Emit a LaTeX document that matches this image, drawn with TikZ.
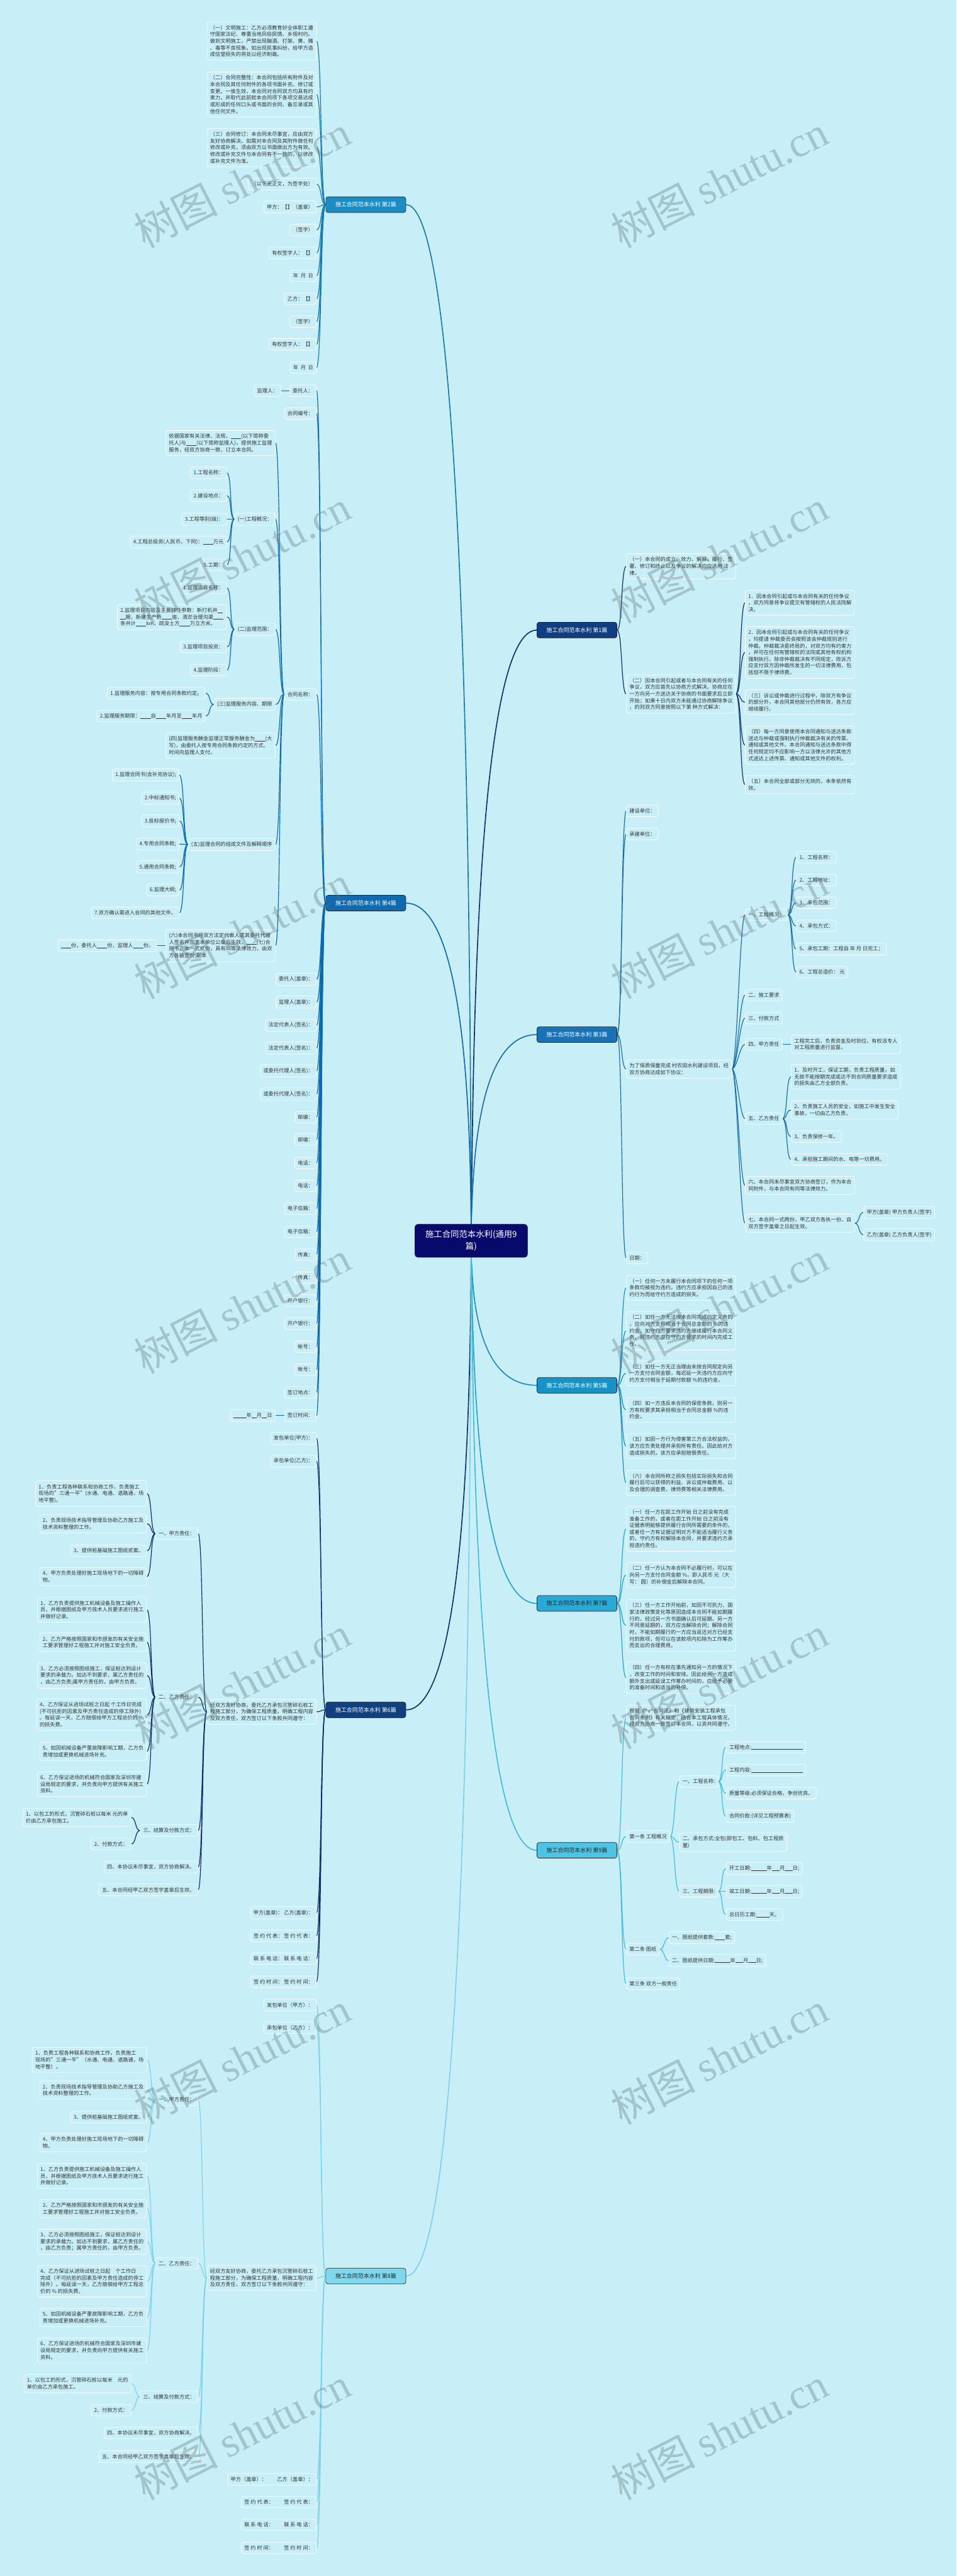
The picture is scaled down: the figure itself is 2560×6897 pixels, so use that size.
\documentclass[tikz,border=0pt]{standalone}
\usepackage{fontspec}
\setmainfont{Noto Sans CJK SC}
\newfontfamily\wmlat{Liberation Serif}
\pgfdeclarelayer{back}
\pgfdeclarelayer{bg}
\pgfdeclarelayer{top}
\pgfsetlayers{back,bg,main,top}
\definecolor{bgc}{HTML}{C8EFF7}
\definecolor{ltx}{HTML}{333333}
\definecolor{t8}{HTML}{3AA3BD}
\definecolor{t9}{HTML}{2A5964}
\definecolor{ctrc}{HTML}{070A6B}
\definecolor{c1}{HTML}{0F3F82}\definecolor{l1}{HTML}{0E2E6C}
\definecolor{c2}{HTML}{1C8DC4}\definecolor{l2}{HTML}{1779AC}
\definecolor{c3}{HTML}{1A72B6}\definecolor{l3}{HTML}{1B6DA6}
\definecolor{c4}{HTML}{0F6AB0}\definecolor{l4}{HTML}{0E69AD}
\definecolor{c5}{HTML}{1693C6}\definecolor{l5}{HTML}{1A8DBE}
\definecolor{c6}{HTML}{10407F}\definecolor{l6}{HTML}{0F2F6B}
\definecolor{c7}{HTML}{2AA9D6}\definecolor{l7}{HTML}{27A2CD}
\definecolor{c8}{HTML}{7FD8EE}\definecolor{l8}{HTML}{7CD2E6}
\definecolor{c9}{HTML}{4EC4E4}\definecolor{l9}{HTML}{44BAD9}
\definecolor{wmc}{HTML}{5A6E73}
\newcommand\lf{\fontsize{3.93pt}{5.09pt}\selectfont}
\newcommand\brf{\fontsize{4.3pt}{5.2pt}\selectfont}
\newcommand\ctf{\fontsize{6.4pt}{9.1pt}\selectfont}
\newcommand\bl[1]{\rule[-0.4pt]{#1em}{0.3pt}}
\newcommand\lk[3]{\draw[#1] (#2.west) .. controls +(-14,0) and +(14,0) .. (#3.east);}
\newcommand\rk[3]{\draw[#1] (#2.east) .. controls +(14,0) and +(-14,0) .. (#3.west);}
\tikzset{
 leaf/.style={draw=white, line width=0.12mm, rounded corners=0.6mm, fill=bgc, inner xsep=0.8mm, inner ysep=0.9mm, font=\lf, align=left, text=ltx},
 lft/.style={leaf, anchor=east},
 rgt/.style={leaf, anchor=west},
 br/.style={draw=black!85, line width=0.12mm, rounded corners=0.6mm, minimum width=21.4mm, minimum height=4.2mm, inner sep=0pt, font=\brf, text=white},
 cn/.style={line width=0.2mm},
 fl/.style={line width=0.28mm},
 wm/.style={font={\fontsize{32pt}{36pt}\selectfont}, text=wmc, opacity=0.33, rotate=27},
}
\begin{document}
\begin{tikzpicture}[x=0.1mm,y=-0.1mm]
\begin{pgfonlayer}{back}
\fill[bgc] (0,0) rectangle (2560,6897);
\end{pgfonlayer}
\useasboundingbox (0,0) rectangle (2560,6897);

% ---------- center ----------
\node[draw=ctrc!70!black, fill=ctrc, text=white, rounded corners=0.8mm, font=\ctf, align=center, minimum width=30.1mm, minimum height=8.8mm, inner sep=0pt] (ctr) at (1261,3322) {施工合同范本水利(通用9\\篇)};

% ---------- branch nodes ----------
\node[br, fill=c1] (b1) at (1544,1687) {施工合同范本水利 第1篇};
\node[br, fill=c2] (b2) at (979,548) {施工合同范本水利 第2篇};
\node[br, fill=c3] (b3) at (1544,2770) {施工合同范本水利 第3篇};
\node[br, fill=c4] (b4) at (979,2418) {施工合同范本水利 第4篇};
\node[br, fill=c5] (b5) at (1544,3709) {施工合同范本水利 第5篇};
\node[br, fill=c6] (b6) at (979,4578) {施工合同范本水利 第6篇};
\node[br, fill=c7, text=black!85] (b7) at (1544,4293) {施工合同范本水利 第7篇};
\node[br, fill=c8, text=black!85] (b8) at (979,6094) {施工合同范本水利 第8篇};
\node[br, fill=c9, text=black!85] (b9) at (1544,4954) {施工合同范本水利 第9篇};

% ---------- 第2篇 ----------
\node[lft] (b2a) at (847,110) {（一）文明施工：乙方必须教育好全体职工遵\\守国家法纪、尊重当地风俗民情、乡规村约。\\做到文明施工，严禁出现酗酒、打架、黄、赌\\、毒等不良现象。如出现民事纠纷，给甲方造\\成信誉损失的将处以经济制裁。};
\node[lft] (b2b) at (847,253) {（二）合同完整性：本合同包括所有附件及对\\本合同及其任何附件的各项书面补充、修订或\\变更。一俟生效，本合同对合同双方均具有约\\束力，并取代此前就本合同项下各项交易达成\\或形成的任何口头或书面的合同、备忘录或其\\他任何文件。};
\node[lft] (b2c) at (847,395) {（三）合同修订：本合同未尽事宜，应由双方\\友好协商解决。如需对本合同及其附件做任何\\修改或补充，须由双方以书面做出方为有效。\\修改或补充文件与本合同有不一致的，以修改\\或补充文件为准。};
\node[lft] (b2d) at (847,493) {（以下无正文，为签字处）};
\node[lft] (b2e) at (847,554) {甲方：【】（盖章）};
\node[lft] (b2f) at (847,616) {（签字）};
\node[lft] (b2g) at (847,677) {有权签字人：【】};
\node[lft] (b2h) at (847,738) {年~~月~~日};
\node[lft] (b2i) at (847,800) {乙方：【】};
\node[lft] (b2j) at (847,861) {（签字）};
\node[lft] (b2k) at (847,922) {有权签字人：【】};
\node[lft] (b2l) at (847,984) {年~~月~~日};

% ---------- 第4篇 ----------
\node[lft] (b4a) at (847,1046) {委托人：};
\node[lft] (b4a1) at (752,1046) {监理人：};
\node[lft] (b4b) at (847,1107) {合同编号：};
\node[lft] (b4c) at (847,1859) {合同名称：};
\node[lft] (b4c1) at (737,1186) {依据国家有关法律、法规，\bl{2}(以下简称委\\托人)与\bl{2}(以下简称监理人)，提供施工监理\\服务，经双方协商一致，订立本合同。};
\node[lft] (b4c2) at (737,1390) {(一)工程概况：};
\node[lft] (b4c2a) at (607,1266) {1.工程名称：};
\node[lft] (b4c2b) at (607,1327) {2.建设地点：};
\node[lft] (b4c2c) at (607,1390) {3.工程等别(级)：};
\node[lft] (b4c2d) at (607,1451) {4.工程总投资(人民币，下同)：\bl{2}万元};
\node[lft] (b4c2e) at (607,1512) {5.工期：};
\node[lft] (b4c3) at (737,1685) {(二)监理范围：};
\node[lft] (b4c3a) at (607,1574) {1.监理项目名称：};
\node[lft] (b4c3b) at (607,1652) {2.监理项目内容及主要特性参数：新打机井\bl{1}\\\bl{1}眼，新建生产桥\bl{2}座、清淤治理沟渠\bl{2}\\条共计\bl{2}km，疏浚土方\bl{2}万立方米。};
\node[lft] (b4c3c) at (607,1732) {3.监理项目投资：};
\node[lft] (b4c3d) at (607,1794) {4.监理阶段：};
\node[lft] (b4c4) at (737,1886) {(三)监理服务内容、期限};
\node[lft] (b4c4a) at (550,1856) {1.监理服务内容：按专用合同条款约定。};
\node[lft] (b4c4b) at (550,1917) {2.监理服务期限：\bl{2}自\bl{2}年月至\bl{2}年月};
\node[lft] (b4c5) at (737,1996) {(四)监理服务酬金监理正常服务酬金为\bl{2}(大\\写)，由委托人按专用合同条款约定的方式、\\时间向监理人支付。};
\node[lft] (b4c6) at (737,2261) {(五)监理合同的组成文件及解释顺序};
\node[lft] (b4c6a) at (480,2075) {1.监理合同书(含补充协议);};
\node[lft] (b4c6b) at (480,2137) {2.中标通知书;};
\node[lft] (b4c6c) at (480,2198) {3.投标报价书;};
\node[lft] (b4c6d) at (480,2260) {4.专用合同条款;};
\node[lft] (b4c6e) at (480,2321) {5.通用合同条款;};
\node[lft] (b4c6f) at (480,2383) {6.监理大纲;};
\node[lft] (b4c6g) at (480,2444) {7.双方确认需进入合同的其他文件。};
\node[lft] (b4c7) at (737,2532) {(六)本合同书经双方法定代表人或其委托代理\\人签名并加盖本单位公章后生效。\bl{2}(七)合\\同书正本一式贰份，具有同等法律效力，由双\\方各执壹份;副本};
\node[lft] (b4c7a) at (420,2532) {\bl{2}份，委托人\bl{2}份，监理人\bl{2}份。};
\node[lft] (b4d01) at (847,2622) {委托人(盖章)：};
\node[lft] (b4d02) at (847,2683) {监理人(盖章)：};
\node[lft] (b4d03) at (847,2745) {法定代表人(签名)：};
\node[lft] (b4d04) at (847,2806) {法定代表人(签名)：};
\node[lft] (b4d05) at (847,2867) {或委托代理人(签名)：};
\node[lft] (b4d06) at (847,2929) {或委托代理人(签名)：};
\node[lft] (b4d07) at (847,2991) {邮编：};
\node[lft] (b4d08) at (847,3051) {邮编：};
\node[lft] (b4d09) at (847,3114) {电话：};
\node[lft] (b4d10) at (847,3175) {电话：};
\node[lft] (b4d11) at (847,3236) {电子信箱：};
\node[lft] (b4d12) at (847,3298) {电子信箱：};
\node[lft] (b4d13) at (847,3359) {传真：};
\node[lft] (b4d14) at (847,3421) {传真：};
\node[lft] (b4d15) at (847,3482) {开户银行：};
\node[lft] (b4d16) at (847,3544) {开户银行：};
\node[lft] (b4d17) at (847,3606) {帐号：};
\node[lft] (b4d18) at (847,3667) {帐号：};
\node[lft] (b4d19) at (847,3728) {签订地点：};
\node[lft] (b4d20) at (847,3790) {签订时间：};
\node[lft] (b4d20a) at (737,3790) {\bl{2.5}年\bl{1}月\bl{1}日};

% ---------- 第6篇 ----------
\node[lft] (b6a) at (847,3851) {发包单位(甲方)：};
\node[lft] (b6b) at (847,3912) {承包单位(乙方)：};
\node[lft] (b6c) at (847,4583) {经双方友好协商，委托乙方承包沉管碎石桩工\\程施工部分，为确保工程质量，明确工程内容\\及双方责任，双方签订以下条款共同遵守：};
\node[lft] (b6c1) at (530,4106) {一、甲方责任：};
\node[lft] (b6c1a) at (393,3999) {1、负责工程各种联系和协商工作，负责施工\\现场的"三通一平"(水通、电通、道路通，场\\地平整)。};
\node[lft] (b6c1b) at (393,4080) {2、负责现场技术指导管理及协助乙方施工及\\技术资料整理的工作。};
\node[lft] (b6c1c) at (393,4152) {3、提供桩基础施工图纸贰套。};
\node[lft] (b6c1d) at (393,4221) {4、甲方负责处理好施工现场地下的一切障碍\\物。};
\node[lft] (b6c2) at (530,4544) {二、乙方责任：};
\node[lft] (b6c2a) at (393,4310) {1、乙方负责提供施工机械设备及施工操作人\\员，并根据图纸及甲方技术人员要求进行施工\\并做好记录。};
\node[lft] (b6c2b) at (393,4397) {2、乙方严格按照国家和市颁发的有关安全施\\工要求管理好工程施工并对施工安全负责。};
\node[lft] (b6c2c) at (393,4486) {3、乙方必须按照图纸施工，保证桩达到设计\\要求的承载力。如达不到要求，属乙方责任的\\，由乙方负责;属甲方责任的，由甲方负责。};
\node[lft] (b6c2d) at (393,4591) {4、乙方保证从进场试桩之日起 个工作日完成\\(不可抗拒的因素及甲方责任造成的停工除外)\\。每延误一天，乙方赔偿给甲方工程总价的 \%\\的损失费。};
\node[lft] (b6c2e) at (393,4689) {5、如因机械设备严重故障影响工期，乙方负\\责增加或更换机械进场补充。};
\node[lft] (b6c2f) at (393,4777) {6、乙方保证进场的机械符合国家及深圳市建\\设局规定的要求，并负责向甲方提供有关施工\\资料。};
\node[lft] (b6c3) at (530,4901) {三、结算及付款方式：};
\node[lft] (b6c3a) at (351,4866) {1、以包工的形式，沉管碎石桩以每米 元的单\\价由乙方承包施工。};
\node[lft] (b6c3b) at (351,4937) {2、付款方式：};
\node[lft] (b6c4) at (530,4999) {四、本协议未尽事宜，双方协商解决。};
\node[lft] (b6c5) at (530,5060) {五、本合同经甲乙双方签字盖章后生效。};
\node[lft] (b6d) at (847,5121) {甲方(盖章)：~乙方(盖章)：};
\node[lft] (b6e) at (847,5183) {签 约 代 表：~签 约 代 表：};
\node[lft] (b6f) at (847,5244) {联 系 电 话：~联 系 电 话：};
\node[lft] (b6g) at (847,5306) {签 约 时 间：~签 约 时 间：};

% ---------- 第8篇 ----------
\begin{scope}[every node/.append style={text=t8}]
\node[lft] (b8a) at (847,5368) {发包单位（甲方）：};
\node[lft] (b8b) at (847,5429) {承包单位（乙方）：};
\node[lft] (b8c) at (847,6099) {经双方友好协商，委托乙方承包沉管碎石桩工\\程施工部分，为确保工程质量，明确工程内容\\及双方责任，双方签订以下条款共同遵守：};
\node[lft] (b8c1) at (530,5622) {一、甲方责任：};
\node[lft] (b8c1a) at (393,5515) {1、负责工程各种联系和协商工作，负责施工\\现场的"三通一平"（水通、电通、道路通，场\\地平整）。};
\node[lft] (b8c1b) at (393,5596) {2、负责现场技术指导管理及协助乙方施工及\\技术资料整理的工作。};
\node[lft] (b8c1c) at (393,5668) {3、提供桩基础施工图纸贰套。};
\node[lft] (b8c1d) at (393,5737) {4、甲方负责处理好施工现场地下的一切障碍\\物。};
\node[lft] (b8c2) at (530,6060) {二、乙方责任：};
\node[lft] (b8c2a) at (393,5826) {1、乙方负责提供施工机械设备及施工操作人\\员，并根据图纸及甲方技术人员要求进行施工\\并做好记录。};
\node[lft] (b8c2b) at (393,5913) {2、乙方严格按照国家和市颁发的有关安全施\\工要求管理好工程施工并对施工安全负责。};
\node[lft] (b8c2c) at (393,6002) {3、乙方必须按照图纸施工，保证桩达到设计\\要求的承载力。如达不到要求，属乙方责任的\\，由乙方负责；属甲方责任的，由甲方负责。};
\node[lft] (b8c2d) at (393,6108) {4、乙方保证从进场试桩之日起\quad 个工作日\\完成（不可抗拒的因素及甲方责任造成的停工\\除外）。每延误一天，乙方赔偿给甲方工程总\\价的 \% 的损失费。};
\node[lft] (b8c2e) at (393,6205) {5、如因机械设备严重故障影响工期，乙方负\\责增加或更换机械进场补充。};
\node[lft] (b8c2f) at (393,6293) {6、乙方保证进场的机械符合国家及深圳市建\\设局规定的要求，并负责向甲方提供有关施工\\资料。};
\node[lft] (b8c3) at (530,6417) {三、结算及付款方式：};
\node[lft] (b8c3a) at (351,6382) {1、以包工的形式，沉管碎石桩以每米\quad 元的\\单价由乙方承包施工。};
\node[lft] (b8c3b) at (351,6453) {2、付款方式：};
\node[lft] (b8c4) at (530,6514) {四、本协议未尽事宜，双方协商解决。};
\node[lft] (b8c5) at (530,6577) {五、本合同经甲乙双方签字盖章后生效。};
\node[lft] (b8d) at (847,6638) {甲方（盖章）：\quad\quad 乙方（盖章）：};
\node[lft] (b8e) at (847,6699) {签 约 代 表：\quad\quad 签 约 代 表：};
\node[lft] (b8f) at (847,6760) {联 系 电 话：\quad\quad 联 系 电 话：};
\node[lft] (b8g) at (847,6822) {签 约 时 间：\quad\quad 签 约 时 间：};
\end{scope}

% ---------- 第1篇 ----------
\node[rgt] (b1a) at (1676,1516) {（一）本合同的成立、效力、解释、履行、签\\署、修订和终止以及争议的解决均应适用 法\\律。};
\node[rgt] (b1b) at (1676,1858) {（二）因本合同引起或者与本合同有关的任何\\争议，双方应首先以协商方式解决。协商应在\\一方向另一方送达关于协商的书面要求后立即\\开始；如果十日内双方未能通过协商解除争议\\，的则双方同意按照以下第 种方式解决：};
\node[rgt] (b1b1) at (1994,1614) {1．因本合同引起或与本合同有关的任何争议\\，双方同意将争议提交有管辖权的人民法院解\\决。};
\node[rgt] (b1b2) at (1994,1747) {2．因本合同引起或与本合同有关的任何争议\\，均提请 仲裁委员会按照该会仲裁规则进行\\仲裁。仲裁裁决是终局的，对双方均有约束力\\，并可在任何有管辖权的法院或其他有权机构\\强制执行。除非仲裁裁决有不同规定，败诉方\\应支付双方因仲裁所发生的一切法律费用，包\\括但不限于律师费。};
\node[rgt] (b1b3) at (1994,1880) {（三）诉讼或仲裁进行过程中，除双方有争议\\的部分外，本合同其他部分仍然有效，各方应\\继续履行。};
\node[rgt] (b1b4) at (1994,1995) {（四）每一方同意使用本合同通知与送达条款\\送达与仲裁或强制执行仲裁裁决有关的传票、\\通知或其他文件。本合同通知与送达条款中得\\任何规定均不应影响一方以法律允许的其他方\\式送达上述传票、通知或其他文件的权利。};
\node[rgt] (b1b5) at (1994,2101) {（五）本合同全部或部分无效的，本条依然有\\效。};

% ---------- 第3篇 ----------
\node[rgt] (b3a) at (1676,2171) {建设单位：};
\node[rgt] (b3b) at (1676,2233) {承建单位：};
\node[rgt] (b3c) at (1676,2862) {为了保质保量完成 村农田水利建设项目，经\\双方协商达成如下协议：};
\node[rgt] (b3c1) at (1994,2449) {一、工程概况：};
\node[rgt] (b3c1a) at (2131,2295) {1、工程名称：};
\node[rgt] (b3c1b) at (2131,2356) {2、工程地址：};
\node[rgt] (b3c1c) at (2131,2417) {3、承包范围：};
\node[rgt] (b3c1d) at (2131,2479) {4、承包方式：};
\node[rgt] (b3c1e) at (2131,2541) {5、承包工期：工程自 年 月 日完工；};
\node[rgt] (b3c1f) at (2131,2603) {6、工程总造价：~元};
\node[rgt] (b3c2) at (1994,2664) {二、施工要求};
\node[rgt] (b3c3) at (1994,2726) {三、付款方式};
\node[rgt] (b3c4) at (1994,2796) {四、甲方责任};
\node[rgt] (b3c4a) at (2117,2796) {工程完工后，负责资金及时到位，有权派专人\\对工程质量进行监督。};
\node[rgt] (b3c5) at (1994,2995) {五、乙方责任};
\node[rgt] (b3c5a) at (2117,2883) {1、及时开工，保证工期，负责工程质量，如\\无故不能按期完成或达不到合同质量要求造成\\的损失由乙方全部负责。};
\node[rgt] (b3c5b) at (2117,2972) {2、负责施工人员的安全，如施工中发生安全\\事故，一切由乙方负责。};
\node[rgt] (b3c5c) at (2117,3043) {3、负责保修一年。};
\node[rgt] (b3c5d) at (2117,3104) {4、承担施工期间的水、电等一切费用。};
\node[rgt] (b3c6) at (1994,3174) {六、本合同未尽事宜双方协商签订，作为本合\\同附件，与本合同有同等法律效力。};
\node[rgt] (b3c7) at (1994,3275) {七、本合同一式两份，甲乙双方各执一份。自\\双方签字盖章之日起生效。};
\node[rgt] (b3c7a) at (2311,3246) {甲方(盖章) 甲方负责人(签字)};
\node[rgt] (b3c7b) at (2311,3306) {乙方(盖章) 乙方负责人(签字)};
\node[rgt] (b3d) at (1676,3368) {日期：};

% ---------- 第5篇 ----------
\node[rgt] (b5a) at (1676,3448) {（一）任何一方未履行本合同项下的任何一项\\条款均被视为违约。违约方应承担因自己的违\\约行为而给守约方造成的损失。};
\node[rgt] (b5b) at (1676,3563) {（二）如任一方无法按本合同完成约定义务的\\，应向对方支付相当于合同总金额的 \%的违\\约金。如守约方要求违约方继续履行本合同义\\务，则违约方应在守约方要求的时间内完成工\\作。};
\node[rgt] (b5c) at (1676,3677) {（三）如任一方无正当理由未按合同规定向另\\一方支付合同金额，每迟延一天违约方应向守\\约方支付相当于延期付款额 \%的违约金。};
\node[rgt] (b5d) at (1676,3775) {（四）如一方违反本合同的保密条款，则另一\\方有权要求其承担相当于合同总金额 \%的违\\约金。};
\node[rgt] (b5e) at (1676,3872) {（五）如因一方行为侵害第三方合法权益的，\\该方应负责处理并承担所有责任。因此给对方\\造成损失的，该方应承担赔偿责任。};
\node[rgt] (b5f) at (1676,3970) {（六）本合同所称之损失包括实际损失和合同\\履行后可以获得的利益、诉讼或仲裁费用、以\\及合理的调查费、律师费等相关法律费用。};

% ---------- 第7篇 ----------
\node[rgt] (b7a) at (1676,4093) {（一）任一方在距工作开始 日之前没有完成\\准备工作的，或者在距工作开始 日之前没有\\证据表明能够提供履行合同所需要的条件的，\\或者任一方有证据证明对方不能适当履行义务\\的，守约方有权解除本合同，并要求违约方承\\担违约责任。};
\node[rgt] (b7b) at (1676,4217) {（二）任一方认为本合同不必履行时，可以在\\向另一方支付合同金额 \%，即人民币 元（大\\写： 圆）的补偿金后解除本合同。};
\node[rgt] (b7c) at (1676,4352) {（三）任一方工作开始前，如因不可抗力、国\\家法律政策变化等原因造成本合同不能如期履\\行的，经过另一方书面确认后可延期。另一方\\不同意延期的，双方应当解除合同；解除合同\\时，不能如期履行的一方应当返还对方已经支\\付的款项，但可以在该款项内扣除为工作筹办\\而支出的合理费用。};
\node[rgt] (b7d) at (1676,4492) {（四）任一方有权在事先通知另一方的情况下\\，改变工作的时间和安排。因此给另一方造成\\额外支出或延误工作筹办时间的，应给予必要\\的准备时间和适当的补偿。};

% ---------- 第9篇 ----------
\begin{scope}[every node/.append style={text=t9}]
\node[rgt] (b9a) at (1676,4599) {根据《\textasciicircum v\textasciicircum 合同法》和《建筑安装工程承包\\合同条例》有关规定，结合本工程具体情况，\\经双方协商一致签订本合同，以资共同遵守。};
\node[rgt] (b9b) at (1676,4917) {第一条 工程概况};
\node[rgt] (b9b1) at (1818,4770) {一、工程名称:};
\node[rgt] (b9b1a) at (1943,4678) {工程地点:\bl{10}};
\node[rgt] (b9b1b) at (1943,4739) {工程内容:\bl{10}};
\node[rgt] (b9b1c) at (1943,4801) {质量等级:必须保证合格，争创优良。};
\node[rgt] (b9b1d) at (1943,4863) {合同价款:(详见工程预算表)};
\node[rgt] (b9b2) at (1818,4932) {二、承包方式:全包(即包工、包料、包工程质\\量)};
\node[rgt] (b9b3) at (1818,5064) {三、工程期限:};
\node[rgt] (b9b3a) at (1943,5003) {开工日期:\bl{3}年\bl{1.5}月\bl{1.5}日;};
\node[rgt] (b9b3b) at (1943,5064) {竣工日期:\bl{3}年\bl{1.5}月\bl{1.5}日;};
\node[rgt] (b9b3c) at (1943,5126) {总日历工期:\bl{2.5}天。};
\node[rgt] (b9c) at (1676,5219) {第二条 图纸};
\node[rgt] (b9c1) at (1790,5188) {一、图纸提供套数:\bl{2}套;};
\node[rgt] (b9c2) at (1790,5249) {二、图纸提供日期:\bl{3}年\bl{1.5}月\bl{1.5}日;};
\node[rgt] (b9d) at (1676,5311) {第三条 双方一般责任};
\end{scope}

% ---------- connectors ----------
\begin{pgfonlayer}{bg}
\draw[fl,l1] (ctr.north) .. controls (1266,2960) and (1266,1687) .. (b1.west);
\draw[fl,l2] (ctr.north) .. controls (1258,2732) and (1258,548) .. (b2.east);
\draw[fl,l3] (ctr.north) .. controls (1266,3176) and (1266,2770) .. (b3.west);
\draw[fl,l4] (ctr.north) .. controls (1258,3106) and (1258,2418) .. (b4.east);
\draw[fl,l5] (ctr.south) .. controls (1266,3436) and (1266,3709) .. (b5.west);
\draw[fl,l6] (ctr.south) .. controls (1258,3610) and (1258,4578) .. (b6.east);
\draw[fl,l7] (ctr.south) .. controls (1266,3553) and (1266,4293) .. (b7.west);
\draw[fl,l8] (ctr.south) .. controls (1258,3913) and (1258,6094) .. (b8.east);
\draw[fl,l9] (ctr.south) .. controls (1266,3685) and (1266,4954) .. (b9.west);

\foreach \c in {b2a,b2b,b2c,b2d,b2e,b2f,b2g,b2h,b2i,b2j,b2k,b2l} {\lk{cn,l2}{b2}{\c}}

\foreach \c in {b4a,b4b,b4c,b4d01,b4d02,b4d03,b4d04,b4d05,b4d06,b4d07,b4d08,b4d09,b4d10,b4d11,b4d12,b4d13,b4d14,b4d15,b4d16,b4d17,b4d18,b4d19,b4d20} {\lk{cn,l4}{b4}{\c}}
\lk{cn,l4}{b4a}{b4a1}
\lk{cn,l4}{b4d20}{b4d20a}
\foreach \c in {b4c1,b4c2,b4c3,b4c4,b4c5,b4c6,b4c7} {\lk{cn,l4}{b4c}{\c}}
\foreach \c in {b4c2a,b4c2b,b4c2c,b4c2d,b4c2e} {\lk{cn,l4}{b4c2}{\c}}
\foreach \c in {b4c3a,b4c3b,b4c3c,b4c3d} {\lk{cn,l4}{b4c3}{\c}}
\foreach \c in {b4c4a,b4c4b} {\lk{cn,l4}{b4c4}{\c}}
\foreach \c in {b4c6a,b4c6b,b4c6c,b4c6d,b4c6e,b4c6f,b4c6g} {\lk{cn,l4}{b4c6}{\c}}
\lk{cn,l4}{b4c7}{b4c7a}

\foreach \c in {b6a,b6b,b6c,b6d,b6e,b6f,b6g} {\lk{cn,l6}{b6}{\c}}
\foreach \c in {b6c1,b6c2,b6c3,b6c4,b6c5} {\lk{cn,l6}{b6c}{\c}}
\foreach \c in {b6c1a,b6c1b,b6c1c,b6c1d} {\lk{cn,l6}{b6c1}{\c}}
\foreach \c in {b6c2a,b6c2b,b6c2c,b6c2d,b6c2e,b6c2f} {\lk{cn,l6}{b6c2}{\c}}
\foreach \c in {b6c3a,b6c3b} {\lk{cn,l6}{b6c3}{\c}}

\foreach \c in {b8a,b8b,b8c,b8d,b8e,b8f,b8g} {\lk{cn,l8}{b8}{\c}}
\foreach \c in {b8c1,b8c2,b8c3,b8c4,b8c5} {\lk{cn,l8}{b8c}{\c}}
\foreach \c in {b8c1a,b8c1b,b8c1c,b8c1d} {\lk{cn,l8}{b8c1}{\c}}
\foreach \c in {b8c2a,b8c2b,b8c2c,b8c2d,b8c2e,b8c2f} {\lk{cn,l8}{b8c2}{\c}}
\foreach \c in {b8c3a,b8c3b} {\lk{cn,l8}{b8c3}{\c}}

\foreach \c in {b1a,b1b} {\rk{cn,l1}{b1}{\c}}
\foreach \c in {b1b1,b1b2,b1b3,b1b4,b1b5} {\rk{cn,l1}{b1b}{\c}}

\foreach \c in {b3a,b3b,b3c,b3d} {\rk{cn,l3}{b3}{\c}}
\foreach \c in {b3c1,b3c2,b3c3,b3c4,b3c5,b3c6,b3c7} {\rk{cn,l3}{b3c}{\c}}
\foreach \c in {b3c1a,b3c1b,b3c1c,b3c1d,b3c1e,b3c1f} {\rk{cn,l3}{b3c1}{\c}}
\rk{cn,l3}{b3c4}{b3c4a}
\foreach \c in {b3c5a,b3c5b,b3c5c,b3c5d} {\rk{cn,l3}{b3c5}{\c}}
\foreach \c in {b3c7a,b3c7b} {\rk{cn,l3}{b3c7}{\c}}

\foreach \c in {b5a,b5b,b5c,b5d,b5e,b5f} {\rk{cn,l5}{b5}{\c}}
\foreach \c in {b7a,b7b,b7c,b7d} {\rk{cn,l7}{b7}{\c}}

\foreach \c in {b9a,b9b,b9c,b9d} {\rk{cn,l9}{b9}{\c}}
\foreach \c in {b9b1,b9b2,b9b3} {\rk{cn,l9}{b9b}{\c}}
\foreach \c in {b9b1a,b9b1b,b9b1c,b9b1d} {\rk{cn,l9}{b9b1}{\c}}
\foreach \c in {b9b3a,b9b3b,b9b3c} {\rk{cn,l9}{b9b3}{\c}}
\foreach \c in {b9c1,b9c2} {\rk{cn,l9}{b9c}{\c}}
\end{pgfonlayer}

% ---------- watermark ----------
\begin{pgfonlayer}{top}
\foreach \y in {485,1490,2495,3500,4505,5510,6515} {\node[wm] at (648,\y) {树图 {\wmlat shutu.cn}};}
\foreach \y in {485,1490,2495,3500,4505,5510,6515} {\node[wm] at (1925,\y) {树图 {\wmlat shutu.cn}};}
\end{pgfonlayer}
\end{tikzpicture}
\end{document}
